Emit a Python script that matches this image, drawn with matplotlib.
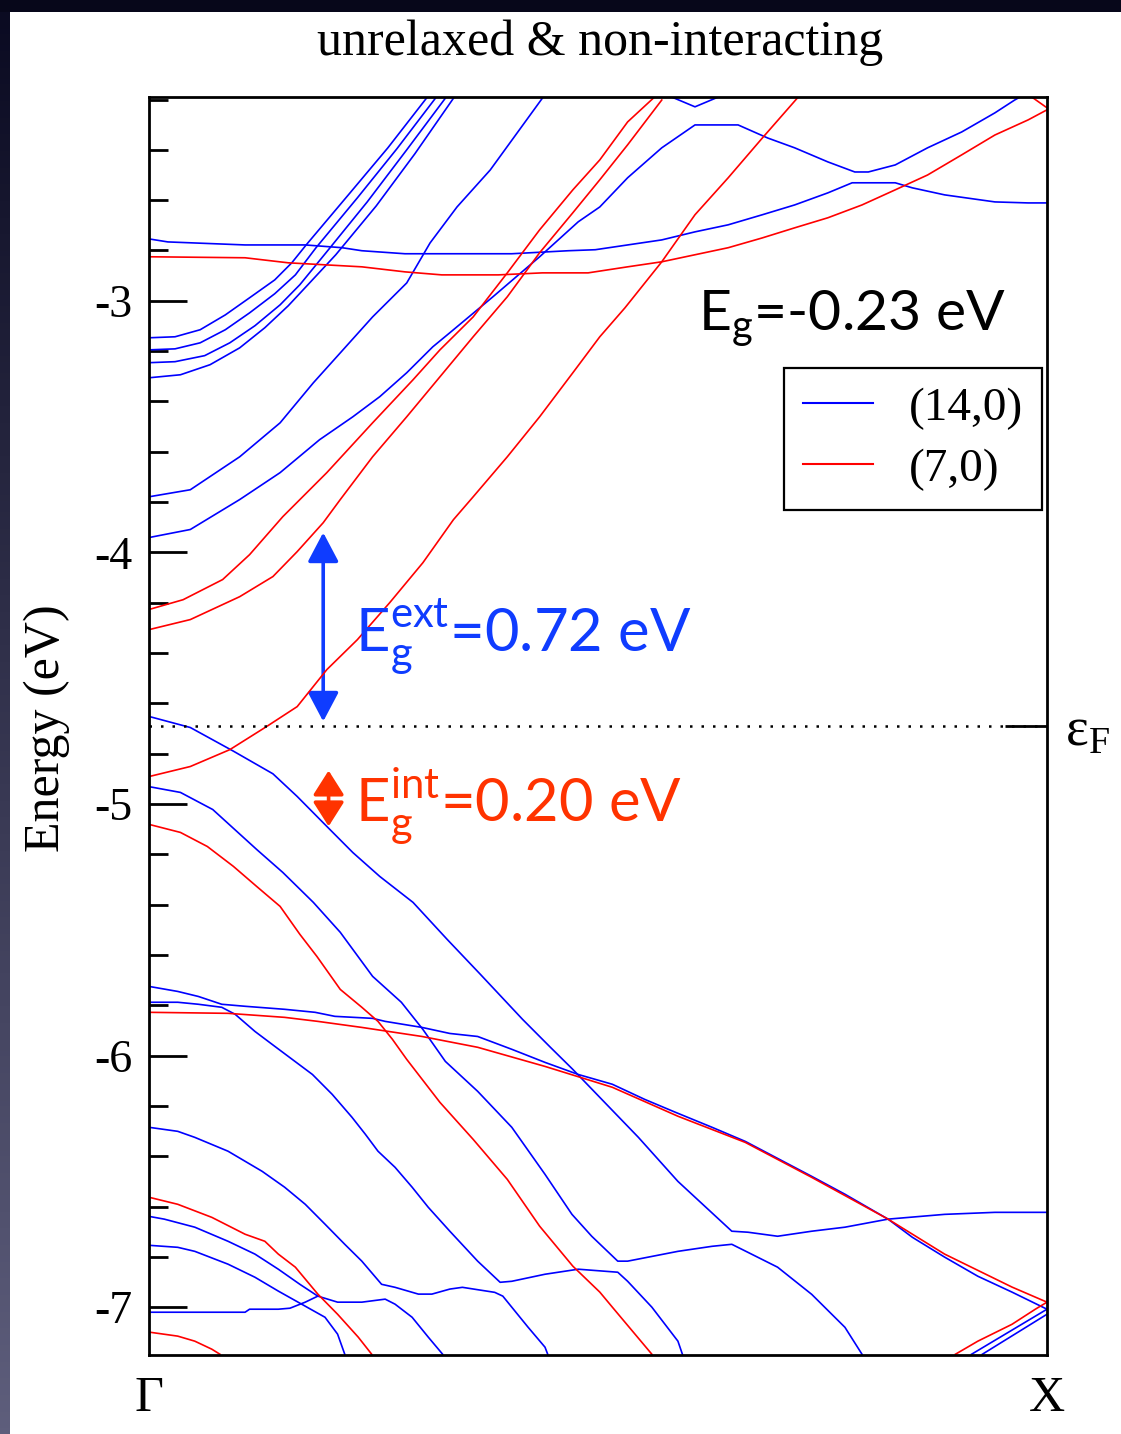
import matplotlib
matplotlib.use('Agg')
import matplotlib.pyplot as plt
import numpy as np
from matplotlib.patches import Rectangle, FancyArrowPatch, ArrowStyle
from matplotlib.lines import Line2D
from matplotlib.ticker import MultipleLocator
from matplotlib.colors import LinearSegmentedColormap

plt.rcParams['axes.unicode_minus'] = False
plt.rcParams['font.family'] = ['Liberation Serif', 'DejaVu Serif']

# ---------------- data (k: 0 = Gamma, 1 = X ; E in eV) ----------------
E_FERMI = -4.69
Y_RANGE = (-7.19, -2.19)
K_LABELS = ['Γ', 'X']
SERIES_NAMES = ['(14,0)', '(7,0)']

# (14,0) bands -- blue
k_b_flat = [0, .021, .107, .174, .215, .237, .285, .404, .467, .497, .533, .571, .608, .645, .683, .719, .756, .783, .831, .850, .886, .942, .979, 1.0]
e_b_flat = [-2.754, -2.766, -2.778, -2.778, -2.789, -2.801, -2.813, -2.813, -2.801, -2.797, -2.778, -2.758, -2.726, -2.698, -2.658, -2.619, -2.571, -2.531, -2.531, -2.551, -2.579, -2.607, -2.611, -2.611]

k_b_peak = [0, .046, .101, .146, .190, .227, .257, .287, .316, .335, .383, .435, .478, .502, .533, .571, .608, .656, .689, .719, .756, .786, .801, .831, .867, .905, .942, .964, .970]
e_b_peak = [-3.941, -3.909, -3.790, -3.683, -3.552, -3.461, -3.381, -3.286, -3.183, -3.127, -2.984, -2.825, -2.686, -2.627, -2.511, -2.392, -2.301, -2.301, -2.353, -2.392, -2.448, -2.488, -2.488, -2.460, -2.392, -2.329, -2.253, -2.202, -2.19]

k_b_steep = [0, .046, .101, .146, .183, .213, .249, .287, .313, .343, .380, .439]
e_b_steep = [-3.779, -3.751, -3.620, -3.485, -3.326, -3.207, -3.064, -2.929, -2.770, -2.627, -2.480, -2.19]

k_b_q1 = [0, .029, .057, .085, .112, .140, .159, .175, .222, .266, .310]
e_b_q1 = [-3.147, -3.143, -3.115, -3.056, -2.988, -2.917, -2.849, -2.778, -2.579, -2.392, -2.19]
k_b_q2 = [0, .029, .057, .085, .112, .140, .163, .186, .232, .276, .320]
e_b_q2 = [-3.195, -3.191, -3.167, -3.115, -3.048, -2.972, -2.897, -2.789, -2.591, -2.396, -2.19]
k_b_q3 = [0, .029, .062, .090, .118, .146, .168, .198, .243, .287, .331]
e_b_q3 = [-3.246, -3.242, -3.218, -3.167, -3.099, -3.016, -2.936, -2.805, -2.607, -2.400, -2.19]
k_b_q4 = [0, .035, .068, .101, .129, .155, .177, .208, .253, .296, .340]
e_b_q4 = [-3.306, -3.294, -3.254, -3.187, -3.107, -3.020, -2.936, -2.817, -2.623, -2.416, -2.19]

k_b_topv = [0.582, 0.608, 0.634]
e_b_topv = [-2.19, -2.229, -2.19]

k_b_vb1 = [0, .046, .094, .138, .165, .198, .227, .257, .294, .332, .369, .416, .447, .472, .502, .545, .589, .649, .667, .700, .738, .775, .823, .886, .942, 1.0]
e_b_vb1 = [-4.652, -4.696, -4.790, -4.880, -4.970, -5.089, -5.193, -5.288, -5.391, -5.538, -5.677, -5.856, -5.967, -6.055, -6.166, -6.325, -6.500, -6.698, -6.702, -6.718, -6.698, -6.682, -6.650, -6.631, -6.623, -6.623]

k_b_vb2 = [0, .035, .071, .120, .149, .183, .213, .249, .281, .305, .330, .366, .404, .441, .471, .493, .522, .533, .589, .627, .649, .667, .700, .738, .775, .794]
e_b_vb2 = [-4.931, -4.954, -5.022, -5.181, -5.272, -5.391, -5.510, -5.685, -5.788, -5.896, -6.023, -6.142, -6.285, -6.472, -6.631, -6.718, -6.817, -6.817, -6.778, -6.758, -6.750, -6.782, -6.841, -6.949, -7.080, -7.187]

k_b_low1 = [0, .032, .055, .081, .107, .151, .185, .207, .249, .263, .304, .335, .366, .404, .441, .478, .516, .552, .586, .627, .664, .738, .775, .823, .850, .886, .923, .961, 1.0]
e_b_low1 = [-5.725, -5.745, -5.765, -5.796, -5.804, -5.816, -5.828, -5.844, -5.852, -5.864, -5.888, -5.912, -5.924, -5.975, -6.027, -6.075, -6.114, -6.174, -6.225, -6.285, -6.341, -6.480, -6.551, -6.650, -6.722, -6.801, -6.877, -6.940, -7.008]

k_b_low2 = [0, .032, .055, .081, .096, .118, .137, .155, .182, .204, .226, .241, .255, .274, .293, .311, .335, .366, .391, .404, .441, .478, .522, .533, .560, .589, .594]
e_b_low2 = [-5.788, -5.788, -5.796, -5.808, -5.836, -5.904, -5.955, -6.003, -6.075, -6.154, -6.245, -6.313, -6.380, -6.444, -6.523, -6.603, -6.698, -6.817, -6.901, -6.897, -6.869, -6.849, -6.861, -6.897, -7.000, -7.135, -7.187]

k_b_low3 = [0, .032, .051, .088, .126, .151, .174, .196, .218, .237, .259, .274, .300, .315, .335, .349, .385, .394, .404, .422, .441, .444]
e_b_low3 = [-6.285, -6.301, -6.325, -6.380, -6.460, -6.523, -6.591, -6.670, -6.750, -6.817, -6.909, -6.921, -6.948, -6.948, -6.928, -6.921, -6.941, -6.956, -7.000, -7.079, -7.159, -7.187]

k_b_low4 = [0, .017, .051, .088, .118, .144, .168, .188, .210, .237, .263, .274, .293, .311, .327]
e_b_low4 = [-6.639, -6.650, -6.682, -6.738, -6.789, -6.849, -6.909, -6.956, -6.980, -6.980, -6.968, -6.988, -7.040, -7.119, -7.187]

k_b_low5 = [0, .032, .051, .088, .118, .144, .170, .196, .210, .218]
e_b_low5 = [-6.754, -6.762, -6.778, -6.829, -6.881, -6.936, -6.988, -7.040, -7.107, -7.187]

k_b_low6 = [0, .107, .112, .144, .157, .174, .188]
e_b_low6 = [-7.020, -7.020, -7.008, -7.008, -7.004, -6.980, -6.956]

k_b_x1 = [.916, 1.0]
e_b_x1 = [-7.187, -7.008]
k_b_x2 = [.928, 1.0]
e_b_x2 = [-7.187, -7.028]

# (7,0) bands -- red
k_r_flat = [0, .107, .155, .237, .285, .326, .389, .438, .489, .533, .571, .608, .645, .683, .719, .756, .794, .831, .867, .905, .942, .979, 1.0]
e_r_flat = [-2.825, -2.829, -2.849, -2.865, -2.885, -2.897, -2.897, -2.889, -2.889, -2.865, -2.845, -2.817, -2.789, -2.750, -2.710, -2.670, -2.619, -2.559, -2.500, -2.420, -2.341, -2.281, -2.241]

k_r_corner = [0.983, 1.0]
e_r_corner = [-2.19, -2.233]

k_r_a = [0, .038, .082, .112, .149, .198, .249, .294, .324, .361, .399, .435, .472, .502, .533, .563]
e_r_a = [-4.227, -4.188, -4.108, -4.009, -3.858, -3.683, -3.485, -3.314, -3.195, -3.064, -2.889, -2.718, -2.559, -2.440, -2.289, -2.19]

k_r_b = [0, .046, .101, .138, .165, .194, .213, .249, .287, .324, .361, .399, .435, .472, .502, .533, .571]
e_r_b = [-4.307, -4.267, -4.176, -4.096, -3.997, -3.882, -3.790, -3.620, -3.461, -3.302, -3.143, -2.984, -2.809, -2.650, -2.519, -2.380, -2.202]

k_r_c = [0, .046, .090, .131, .165, .198, .232, .268, .305, .339, .361, .399, .435, .472, .502, .530, .571, .608, .645, .683, .723]
e_r_c = [-4.891, -4.851, -4.784, -4.692, -4.613, -4.466, -4.347, -4.200, -4.041, -3.870, -3.779, -3.620, -3.461, -3.286, -3.143, -3.028, -2.845, -2.658, -2.511, -2.353, -2.19]

k_r_vb = [0, .035, .065, .094, .120, .146, .168, .187, .213, .237, .255, .271, .287, .324, .361, .399, .435, .472, .502, .516, .560]
e_r_vb = [-5.081, -5.113, -5.169, -5.248, -5.328, -5.407, -5.518, -5.606, -5.737, -5.808, -5.864, -5.935, -6.015, -6.186, -6.333, -6.492, -6.678, -6.837, -6.940, -7.000, -7.187]

k_r_long = [0, .088, .151, .188, .237, .304, .366, .441, .516, .589, .664, .738, .823, .886, .961, 1.0]
e_r_long = [-5.828, -5.832, -5.848, -5.864, -5.888, -5.924, -5.967, -6.043, -6.126, -6.241, -6.345, -6.484, -6.650, -6.789, -6.920, -6.980]

k_r_low1 = [0, .032, .070, .107, .129, .144, .163, .188, .210, .233, .248]
e_r_low1 = [-6.563, -6.591, -6.643, -6.710, -6.738, -6.789, -6.841, -6.948, -7.028, -7.119, -7.187]

k_r_low2 = [0, .032, .051, .070, .079]
e_r_low2 = [-7.099, -7.115, -7.135, -7.167, -7.187]

k_r_x = [.898, .923, .961, .987, 1.0]
e_r_x = [-7.187, -7.135, -7.068, -7.008, -6.980]

blue_bands = [(k_b_flat, e_b_flat), (k_b_peak, e_b_peak), (k_b_steep, e_b_steep),
              (k_b_q1, e_b_q1), (k_b_q2, e_b_q2), (k_b_q3, e_b_q3), (k_b_q4, e_b_q4),
              (k_b_topv, e_b_topv), (k_b_vb1, e_b_vb1), (k_b_vb2, e_b_vb2),
              (k_b_low1, e_b_low1), (k_b_low2, e_b_low2), (k_b_low3, e_b_low3),
              (k_b_low4, e_b_low4), (k_b_low5, e_b_low5), (k_b_low6, e_b_low6),
              (k_b_x1, e_b_x1), (k_b_x2, e_b_x2)]
red_bands = [(k_r_flat, e_r_flat), (k_r_corner, e_r_corner), (k_r_a, e_r_a), (k_r_b, e_r_b),
             (k_r_c, e_r_c), (k_r_vb, e_r_vb), (k_r_long, e_r_long), (k_r_low1, e_r_low1),
             (k_r_low2, e_r_low2), (k_r_x, e_r_x)]

# annotation values
GAP_TOTAL = '-0.23'
GAP_EXT = '0.72'
GAP_INT = '0.20'
ARROW_EXT = (0.194, -3.921, -4.672)   # k, E_top, E_bottom
ARROW_INT = (0.200, -4.867, -5.089)

BLUE = '#0000ff'
RED = '#ff0000'
ANN_BLUE = '#0f3cff'
ANN_RED = '#ff3300'

# ---------------- figure ----------------
W, H = 1121, 1434
fig = plt.figure(figsize=(W / 100, H / 100), dpi=100)
fig.patch.set_facecolor('#07071a')
fig.add_artist(Rectangle((10 / W, 0), 1 - 10 / W, 1 - 12 / H, transform=fig.transFigure,
                         facecolor='white', edgecolor='none', zorder=0))
gax = fig.add_axes([0, 0, 10 / W, 1 - 12 / H])
grad = np.linspace(0, 1, 256).reshape(-1, 1)
gax.imshow(grad, aspect='auto', origin='lower',
           cmap=LinearSegmentedColormap.from_list('strip', ['#5e5e7c', '#0b0b22']))
gax.axis('off')

ax = fig.add_axes([149 / W, 1 - 1355 / H, (1047 - 149) / W, (1355 - 97) / H])
ax.set_facecolor('white')

for k, e in blue_bands:
    ax.plot(k, e, color=BLUE, lw=1.2, solid_joinstyle='round')
for k, e in red_bands:
    ax.plot(k, e, color=RED, lw=1.2, solid_joinstyle='round')

ax.axhline(E_FERMI, color='black', lw=1.8, linestyle=(0, (1, 3.6)))

ax.set_xlim(0, 1)
ax.set_ylim(*Y_RANGE)
ax.set_xticks([0, 1])
ax.set_xticklabels(K_LABELS)
ax.tick_params(axis='x', length=0, pad=15, labelsize=36)
ax.yaxis.set_major_locator(MultipleLocator(1))
ax.yaxis.set_minor_locator(MultipleLocator(0.2))
ax.tick_params(axis='y', which='major', direction='in', length=27, width=2, labelsize=33, pad=12)
ax.tick_params(axis='y', which='minor', direction='in', length=14, width=2)
for s in ax.spines.values():
    s.set_linewidth(2)

ax2 = ax.twinx()
ax2.set_ylim(*Y_RANGE)
ax2.set_yticks([E_FERMI])
ax2.set_yticklabels([r'ε$_\mathregular{F}$'])
ax2.tick_params(axis='y', direction='in', length=30, width=2, labelsize=39, pad=13)
ax2.yaxis.set_minor_locator(plt.NullLocator())
for s in ax2.spines.values():
    s.set_visible(False)

handles = [Line2D([], [], color=BLUE, lw=1.5), Line2D([], [], color=RED, lw=1.5)]
leg = ax.legend(handles, SERIES_NAMES, loc='upper right', bbox_to_anchor=(0.9944, 0.7846),
                borderaxespad=0, fontsize=34, handlelength=1.5, handletextpad=0.75,
                labelspacing=0.38, borderpad=0.4, frameon=True, fancybox=False,
                edgecolor='black', framealpha=1)
leg.get_frame().set_linewidth(1.6)

# title & y label
fig.text(600 / W, 1 - 55 / H, 'unrelaxed & non-interacting', ha='center', va='baseline', fontsize=36)
fig.text(47 / W, 1 - 728 / H, 'Energy (eV)', rotation=90, ha='center', va='center', fontsize=36)

# annotations
ax.text(0.611, -3.115, r'E$_\mathregular{g}$=' + GAP_TOTAL + ' eV', fontfamily='Lato',
        fontsize=41, color='black', ha='left', va='baseline')
ax.text(0.229, -4.394, r'E$_\mathregular{g}^\mathregular{ext}$=' + GAP_EXT + ' eV', fontfamily='Lato',
        fontsize=43, color=ANN_BLUE, ha='left', va='baseline')
ax.text(0.229, -5.07, r'E$_\mathregular{g}^\mathregular{int}$=' + GAP_INT + ' eV', fontfamily='Lato',
        fontsize=43, color=ANN_RED, ha='left', va='baseline')

a1 = FancyArrowPatch((ARROW_EXT[0], ARROW_EXT[1]), (ARROW_EXT[0], ARROW_EXT[2]),
                     arrowstyle=ArrowStyle('<|-|>', head_length=18, head_width=9.5),
                     mutation_scale=1, lw=2.6, color=ANN_BLUE, shrinkA=0, shrinkB=0)
ax.add_patch(a1)
a2 = FancyArrowPatch((ARROW_INT[0], ARROW_INT[1]), (ARROW_INT[0], ARROW_INT[2]),
                     arrowstyle=ArrowStyle('<|-|>', head_length=15, head_width=9.5),
                     mutation_scale=1, lw=2.6, color=ANN_RED, shrinkA=0, shrinkB=0)
ax.add_patch(a2)

fig.savefig('out.png', dpi=100, facecolor=fig.get_facecolor())
